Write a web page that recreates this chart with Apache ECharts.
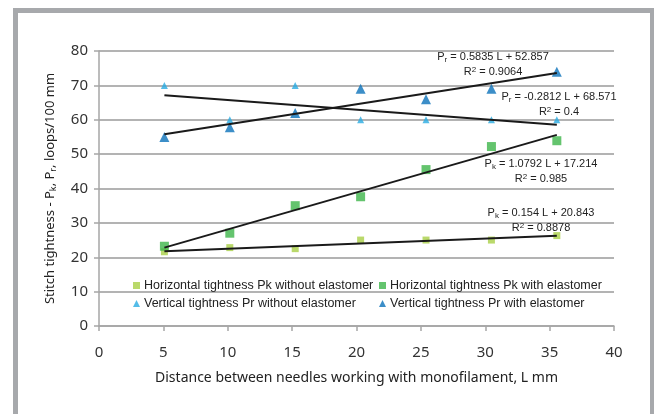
<!DOCTYPE html>
<html>
<head>
<meta charset="utf-8">
<script src="https://cdn.jsdelivr.net/npm/echarts@6/dist/echarts.min.js"></script>
<style>
  html, body { margin: 0; padding: 0; background: #fff; }
  #chart { width: 654px; height: 414px; }
</style>
</head>
<body>
<div id="chart"></div>
<script>
// needle distances, L mm
const xValues = [5.08, 10.16, 15.24, 20.32, 25.4, 30.48, 35.56]
const pkWithout = [21.6, 22.8, 22.5, 25.0, 25.0, 25.0, 26.3]
const pkWith = [23.2, 27.0, 35.0, 37.6, 45.5, 52.2, 53.9]
const prWithout = [70, 60, 70, 60, 60, 60, 60]
const prWith = [55.0, 57.8, 62.0, 69.0, 66.0, 69.0, 74.0]

const seriesNames = [
  'Horizontal tightness Pk without elastomer',
  'Horizontal tightness Pk with elastomer',
  'Vertical tightness Pr without elastomer',
  'Vertical tightness Pr with elastomer',
]
const equations = [
  ['P{sub|k} = 0.154 L + 20.843', 'R{sup|2} = 0.8878'],
  ['P{sub|k} = 1.0792 L + 17.214', 'R{sup|2} = 0.985'],
  ['P{sub|r} = -0.2812 L + 68.571', 'R{sup|2} = 0.4'],
  ['P{sub|r} = 0.5835 L + 52.857', 'R{sup|2} = 0.9064'],
]

const chart = echarts.init(document.getElementById('chart'))

const pair = (ys) => xValues.map((x, i) => [x, ys[i]])

// least-squares trend line, drawn over the data range
function trend(ys) {
  const n = xValues.length
  const mx = xValues.reduce((a, b) => a + b, 0) / n
  const my = ys.reduce((a, b) => a + b, 0) / n
  let sxy = 0, sxx = 0
  xValues.forEach((x, i) => {
    sxy += (x - mx) * (ys[i] - my)
    sxx += (x - mx) * (x - mx)
  })
  const b = sxy / sxx
  const a = my - b * mx
  const x0 = xValues[0], x1 = xValues[n - 1]
  return [[x0, a + b * x0], [x1, a + b * x1]]
}

const sans = '"Liberation Sans", Arial, sans-serif'
const noto = '"Noto Sans", sans-serif'
const richEq = {
  sub: { fontSize: 8, fontFamily: sans, fill: '#222', padding: [6, 0, 0, 0] },
  sup: { fontSize: 8, fontFamily: sans, fill: '#222', padding: [0, 0, 5, 0] },
}

function eqText(lines, cx, y) {
  return lines.map((t, k) => ({
    type: 'text',
    x: cx,
    y: y + k * 15,
    z: 10,
    style: {
      text: t,
      align: 'center',
      verticalAlign: 'middle',
      font: '11px ' + sans,
      fill: '#222',
      rich: richEq,
    },
  }))
}

const colors = ['#a9cf46', '#3db54a', '#29abe2', '#0b72ba']
const symbols = ['rect', 'rect', 'triangle', 'triangle']
const sizes = [7, 9, 7, 10]
const dataSets = [pkWithout, pkWith, prWithout, prWith]

const scatterSeries = dataSets.map((ys, i) => ({
  name: seriesNames[i],
  type: 'scatter',
  data: pair(ys),
  symbol: symbols[i],
  symbolSize: sizes[i],
  itemStyle: { color: colors[i] },
  z: 2,
}))

const trendSeries = dataSets.map((ys) => ({
  type: 'line',
  data: trend(ys),
  symbol: 'none',
  silent: true,
  lineStyle: { color: '#1a1a1a', width: 2 },
  z: 5,
}))

const legendPos = [
  { left: 133, top: 279 },
  { left: 379, top: 279 },
  { left: 133, top: 297 },
  { left: 379, top: 297 },
]

const option = {
  animation: false,
  backgroundColor: '#fff',
  grid: { left: 99, right: 40, top: 51, bottom: 88 },
  legend: legendPos.map((p, i) => ({
    data: [{ name: seriesNames[i], icon: symbols[i] }],
    left: p.left,
    top: p.top,
    itemWidth: 7,
    itemHeight: 7,
    itemGap: 0,
    padding: 0,
    selectedMode: false,
    textStyle: { fontFamily: sans, fontSize: 12.5, color: '#222', padding: [0, 0, 0, -1] },
  })),
  xAxis: {
    type: 'value',
    min: 0,
    max: 40,
    interval: 5,
    name: 'Distance between needles working with monofilament, L mm',
    nameLocation: 'middle',
    nameGap: 45,
    nameTextStyle: { fontFamily: noto, fontSize: 14, color: '#222' },
    axisLine: { lineStyle: { color: '#a6a6a6', width: 1.5 } },
    axisTick: { show: true, length: 5, lineStyle: { color: '#a6a6a6', width: 1.5 } },
    axisLabel: { margin: 19, fontFamily: noto, fontSize: 15, color: '#333' },
    splitLine: { show: false },
  },
  yAxis: {
    type: 'value',
    min: 0,
    max: 80,
    interval: 10,
    name: 'Stitch tightness - P{sub|k}, P{sub|r}, loops/100 mm',
    nameLocation: 'middle',
    nameGap: 41,
    nameTextStyle: {
      fontFamily: noto,
      fontSize: 13,
      color: '#222',
      rich: { sub: { fontFamily: noto, fontSize: 9, color: '#222', padding: [7, 0, 0, 0] } },
    },
    axisLine: { show: true, lineStyle: { color: '#a6a6a6', width: 1.5 } },
    axisTick: { show: true, length: 5, lineStyle: { color: '#a6a6a6', width: 1.5 } },
    axisLabel: { margin: 11, fontFamily: noto, fontSize: 15, color: '#333' },
    splitLine: { lineStyle: { color: '#b3b3b3', width: 2 } },
  },
  graphic: [
    {
      type: 'rect',
      shape: { x: 15.5, y: 10.5, width: 637, height: 500 },
      style: { fill: 'none', stroke: '#a7a9ac', lineWidth: 5 },
      silent: true,
    },
    ...eqText(equations[3], 493, 57),
    ...eqText(equations[2], 559, 97),
    ...eqText(equations[1], 541, 164),
    ...eqText(equations[0], 541, 213),
  ],
  series: [...scatterSeries, ...trendSeries],
}

chart.setOption(option)
</script>
</body>
</html>
